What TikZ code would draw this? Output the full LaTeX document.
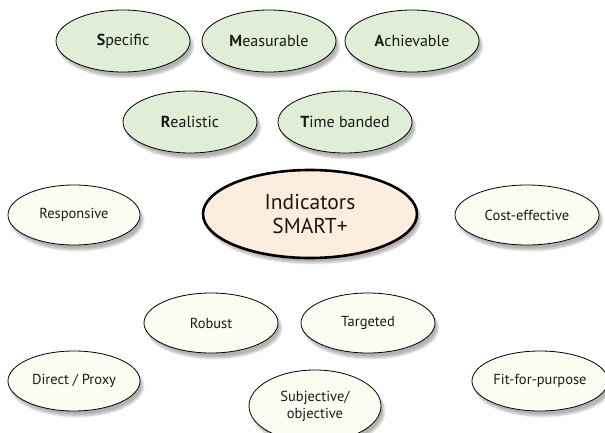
\documentclass[tikz,border=0pt]{standalone}
\usepackage{fontspec}
\setmainfont{PT Sans}
\usetikzlibrary{shapes.geometric,shadows.blur}
\definecolor{mygreen}{RGB}{224,237,215}
\definecolor{mycream}{RGB}{253,252,242}
\definecolor{mypeach}{RGB}{252,237,222}
\tikzset{
	node base/.style={ellipse,draw=black,line width=0.8,inner sep=0,text=black!90,
	  blur shadow={shadow xshift=3pt,shadow yshift=-5pt,shadow blur steps=10,shadow opacity=30}},
	node smart/.style={node base,fill=mygreen,minimum width=134,minimum height=62,font=\fontsize{16}{18}\selectfont},
	node plus/.style={node base,fill=mycream,minimum width=132,minimum height=60,font=\fontsize{14.5}{17}\selectfont},
	node main/.style={node base,fill=mypeach,line width=2.6,minimum width=214,minimum height=88,
	  align=center,font=\fontsize{21.5}{24}\selectfont}
}

\begin{document}
\begin{tikzpicture}[x=1pt,y=-1pt]
  \useasboundingbox (0,0) rectangle (605,433);

  % SMART ELLIPSES
  \foreach \name/\first/\rest/\x/\y in {S/S/pecific/123/41, M/M/easurable/269/41, A/A/chievable/412/41,
                                         R/R/ealistic/190/122, T/T/ime banded/345/122}{
    \node[node smart] (smart-\name) at (\x,\y) {\textbf{\first}\rest};
  }

  % CENTRE
  \node[node main] (main) at (310,214) {Indicators\\SMART+};

  % EXTRA CRITERIA
  \node[node plus] (resp)   at (74,215)  {Responsive};
  \node[node plus,minimum width=144] (cost) at (527,215) {Cost-effective};
  \node[node plus,minimum width=134] (robust) at (211,323) {Robust};
  \node[node plus,minimum width=134] (target) at (368,323) {Targeted};
  \node[node plus] (direct) at (74,381) {Direct / Proxy};
  \node[node plus,minimum height=72,align=center] (subj) at (315,406) {Subjective/\\objective};
  \node[node plus,minimum width=136] (fit) at (540,381) {Fit-for-purpose};

\end{tikzpicture}
\end{document}
